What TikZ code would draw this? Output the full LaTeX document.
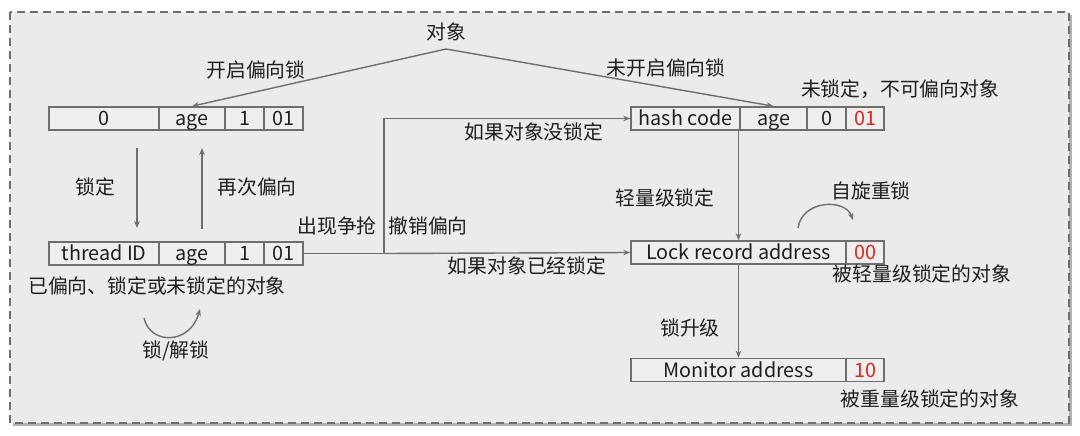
\documentclass[tikz,border=0pt]{standalone}
\usepackage{fontspec}
\setmainfont{Noto Sans CJK SC}
\usepackage{xcolor}
\usetikzlibrary{arrows.meta}

\definecolor{bggray}{HTML}{EBEBEB}
\definecolor{cellgray}{HTML}{EEEEEE}
\definecolor{linegray}{HTML}{6E6E6E}
\definecolor{txtgray}{HTML}{1E1E1E}
\definecolor{bitred}{HTML}{D8271E}
\newcommand{\lblfont}{\fontsize{19.8}{23}\selectfont}

\begin{document}
\begin{tikzpicture}[x=1pt, y=-1pt,
    cell/.style={rectangle, draw=linegray, line width=1.6pt, fill=cellgray, minimum height=23pt, inner sep=0pt, text height=16pt, text depth=2pt, text=txtgray, font=\lblfont},
    lbl/.style={text=txtgray, inner sep=0pt, font=\lblfont},
    arrow/.style={draw=linegray, line width=1.4pt, -{Stealth[length=7pt, width=5.5pt]}},
    link/.style={draw=linegray, line width=1.4pt}]

    % frame
    \useasboundingbox (0,0) rectangle (1080,436);
    \fill[black!30] (13,15) rectangle (1072,426);
    \draw[draw=linegray, line width=1.6pt, dash pattern=on 8pt off 5pt, fill=bggray] (10,12) rectangle (1069,423);

    % biased, anonymous
    \node [cell, minimum width=110pt] (bzero) at (104,118.5) {0};
    \node [cell, minimum width=66pt] (bage) at (192,118.5) {age};
    \node [cell, minimum width=39pt] (bone) at (244.5,118.5) {1};
    \node [cell, minimum width=39pt] (bbits) at (283.5,118.5) {01};

    % biased, thread
    \node [cell, minimum width=110pt] (tid) at (104,253.5) {thread ID};
    \node [cell, minimum width=66pt] (tage) at (192,253.5) {age};
    \node [cell, minimum width=39pt] (tone) at (244.5,253.5) {1};
    \node [cell, minimum width=39pt] (tbits) at (283.5,253.5) {01};

    % unlocked, not biasable
    \node [cell, minimum width=109pt] (hcode) at (685.5,118.5) {hash code};
    \node [cell, minimum width=67pt] (hage) at (773.5,118.5) {age};
    \node [cell, minimum width=39pt] (hzero) at (826.5,118.5) {0};
    \node [cell, minimum width=38pt, text=bitred] (hbits) at (865,118.5) {01};

    % lightweight
    \node [cell, minimum width=215pt] (lrec) at (738.5,252.5) {Lock record address};
    \node [cell, minimum width=38pt, text=bitred] (lbits) at (865,252.5) {00};

    % heavyweight
    \node [cell, minimum width=215pt] (mon) at (738.5,370) {Monitor address};
    \node [cell, minimum width=38pt, text=bitred] (mbits) at (865,370) {10};

    % labels
    \node [lbl] (obj) at (446,32) {对象};
    \node [lbl] (bon) at (256,70) {开启偏向锁};
    \node [lbl] (boff) at (666,68) {未开启偏向锁};
    \node [lbl] (hnote) at (900,89) {未锁定，不可偏向对象};
    \node [lbl] (lockl) at (95,187) {锁定};
    \node [lbl] (rebias) at (257,187) {再次偏向};
    \node [lbl] (race) at (337,226) {出现争抢};
    \node [lbl] (revoke) at (428,226) {撤销偏向};
    \node [lbl] (ifunl) at (534,132) {如果对象没锁定};
    \node [lbl] (iflk) at (527,266) {如果对象已经锁定};
    \node [lbl] (light) at (665,198) {轻量级锁定};
    \node [lbl] (spin) at (871,191) {自旋重锁};
    \node [lbl] (lnote) at (922,274) {被轻量级锁定的对象};
    \node [lbl] (upg) at (690,328) {锁升级};
    \node [lbl] (mnote) at (930,399) {被重量级锁定的对象};
    \node [lbl] (tnote) at (157,286) {已偏向、锁定或未锁定的对象};
    \node [lbl] (lkun) at (176,351) {锁/解锁};

    % helper points
    \coordinate (apex) at (446,49);
    \coordinate (split) at (384,253.5);
    \coordinate (dtop) at (137,148);
    \coordinate (dbot) at (137,228);
    \coordinate (utop) at (202,148);
    \coordinate (ubot) at (202,229);
    \coordinate (lus) at (144,318);
    \coordinate (lue) at (200,309);
    \coordinate (sps) at (798,228);
    \coordinate (spe) at (853,220);

    % arrows
    \draw [arrow] (apex) -- (bage.north);
    \draw [arrow] (apex) -- (hage.north);
    \draw [arrow] (dtop) -- (dbot);
    \draw [arrow] (ubot) -- (utop);
    \draw [link] (tbits.east) -- (split);
    \draw [arrow] (split) |- (hcode.west);
    \draw [arrow] (split) -- (lrec.west);
    \draw [arrow] (hcode.south -| lrec.north) -- (lrec.north);
    \draw [arrow] (lrec.south) -- (mon.north);
    \draw [arrow] (lus) .. controls (150,345) and (190,345) .. (lue);
    \draw [arrow] (sps) .. controls (802,200) and (845,198) .. (spe);
\end{tikzpicture}
\end{document}
